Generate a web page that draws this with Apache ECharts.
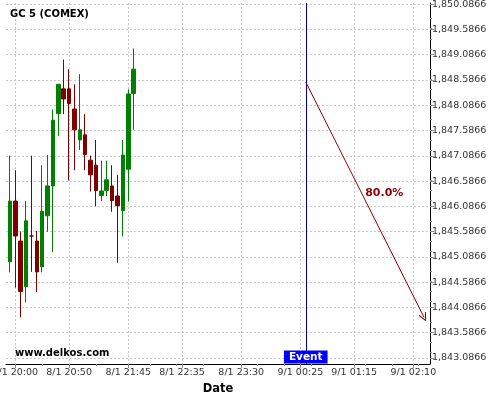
<!DOCTYPE html>
<html>
<head>
<meta charset="utf-8">
<title>GC 5 (COMEX)</title>
<script src="https://cdn.jsdelivr.net/npm/echarts@6/dist/echarts.min.js"></script>
<style>
  html, body { margin: 0; padding: 0; background: #fff; }
  #main { width: 500px; height: 400px; }
</style>
</head>
<body>
<div id="main"></div>
<script>
// 5 minute bars on 8/1
var candleTimes = ['19:55', '20:00', '20:05', '20:10', '20:15', '20:20', '20:25', '20:30',
  '20:35', '20:40', '20:45', '20:50', '20:55', '21:00', '21:05', '21:10',
  '21:15', '21:20', '21:25', '21:30', '21:35', '21:40', '21:45', '21:50']
var opens = [1844.99, 1846.19, 1845.40, 1844.50, 1845.50, 1845.40, 1844.89, 1845.90,
  1846.49, 1847.92, 1848.41, 1848.41, 1848.01, 1847.40, 1847.50, 1847.00,
  1846.90, 1846.30, 1846.40, 1846.49, 1846.29, 1846.00, 1846.82, 1848.32]
var closes = [1846.19, 1845.50, 1844.40, 1845.80, 1845.50, 1844.79, 1845.99, 1846.49,
  1847.79, 1848.50, 1848.21, 1848.12, 1847.60, 1847.60, 1847.11, 1846.71,
  1846.40, 1846.39, 1846.61, 1846.20, 1846.10, 1847.10, 1848.31, 1848.80]
var lows = [1844.78, 1844.48, 1843.89, 1844.19, 1844.79, 1844.39, 1844.78, 1845.58,
  1845.18, 1847.48, 1847.91, 1846.60, 1846.80, 1847.20, 1846.80, 1846.38,
  1846.09, 1846.19, 1846.29, 1845.98, 1844.97, 1845.49, 1846.18, 1847.60]
var highs = [1847.09, 1846.80, 1845.59, 1846.19, 1847.09, 1845.60, 1846.90, 1847.10,
  1848.00, 1848.50, 1848.99, 1848.80, 1848.50, 1848.70, 1847.91, 1847.09,
  1847.40, 1846.99, 1846.99, 1846.90, 1846.71, 1847.40, 1848.40, 1849.21]

var xTickLabels = ['8/1 20:00', '8/1 20:50', '8/1 21:45', '8/1 22:35',
  '8/1 23:30', '9/1 00:25', '9/1 01:15', '9/1 02:10']
var yTicks = [1843.0866, 1843.5866, 1844.0866, 1844.5866, 1845.0866, 1845.5866,
  1846.0866, 1846.5866, 1847.0866, 1847.5866, 1848.0866, 1848.5866,
  1849.0866, 1849.5866, 1850.0866]

// event and forecast arrow
var eventTime = '9/1 00:30'
var arrowFrom = ['9/1 00:30', 1848.545]
var arrowTo = ['9/1 02:20', 1843.89]
var arrowLabel = ['9/1 01:43', 1846.35, '80.0%']

// minutes since 8/1 00:00
function toMin (s) {
  var p = s.split(' ')
  var day = p[0] === '9/1' ? 1440 : 0
  var hm = p[1].split(':')
  return day + parseInt(hm[0], 10) * 60 + parseInt(hm[1], 10)
}
function minLabel (v) {
  var m = Math.round(v)
  var day = m >= 1440 ? '9/1' : '8/1'
  m = m % 1440
  var h = Math.floor(m / 60)
  var mm = m % 60
  return day + ' ' + (h < 10 ? '0' : '') + h + ':' + (mm < 10 ? '0' : '') + mm
}
function priceLabel (v) {
  var parts = v.toFixed(4).split('.')
  return parts[0].replace(/\B(?=(\d{3})+(?!\d))/g, ',') + '.' + parts[1]
}

var candles = []
for (var i = 0; i < candleTimes.length; i++) {
  candles.push([toMin('8/1 ' + candleTimes[i]), opens[i], closes[i], lows[i], highs[i]])
}
var xTicks = xTickLabels.map(toMin)

var font = 'DejaVu Sans'
var gridDash = { color: '#c8c8c8', width: 1, type: [2, 2] }

var option = {
  animation: false,
  backgroundColor: '#fff',
  title: {
    text: 'GC 5 (COMEX)',
    left: 10,
    top: 9,
    padding: 0,
    textStyle: { fontFamily: font, fontSize: 10, fontWeight: 'bold', color: '#000' }
  },
  graphic: [{
    type: 'text',
    left: 15,
    top: 348,
    style: { text: 'www.delkos.com', font: 'bold 10px "DejaVu Sans"', fill: '#000' }
  }],
  grid: { left: 6, right: 70, top: 3, bottom: 36, outerBoundsMode: 'none' },
  xAxis: {
    type: 'value',
    min: 1191.35,
    max: 1585.5,
    name: 'Date',
    nameLocation: 'middle',
    nameGap: 19,
    nameTextStyle: { fontFamily: font, fontSize: 11.5, fontWeight: 'bold', color: '#000' },
    axisLine: { show: true, lineStyle: { color: '#000', width: 1 } },
    axisTick: { show: true, length: 4, customValues: xTicks, lineStyle: { color: '#888' } },
    minorTick: { show: true, splitNumber: 4, length: 2, lineStyle: { color: '#888' } },
    axisLabel: {
      customValues: xTicks,
      margin: 4,
      fontFamily: font,
      fontSize: 9.5,
      color: '#333',
      formatter: minLabel
    },
    splitLine: { show: true, lineStyle: gridDash }
  },
  yAxis: {
    type: 'value',
    position: 'right',
    min: 1842.968,
    max: 1850.108,
    axisLine: { show: true, lineStyle: { color: '#000', width: 1 } },
    axisTick: { show: true, length: 4, customValues: yTicks, lineStyle: { color: '#888' } },
    minorTick: { show: true, splitNumber: 5, length: 2, lineStyle: { color: '#888' } },
    axisLabel: {
      customValues: yTicks,
      margin: 2,
      fontFamily: font,
      fontSize: 9.5,
      color: '#333',
      formatter: priceLabel
    },
    splitLine: { show: true, lineStyle: gridDash }
  },
  series: [{
    type: 'candlestick',
    data: candles,
    barWidth: 4,
    itemStyle: {
      color: '#008000',
      color0: '#800000',
      borderColor: '#008000',
      borderColor0: '#800000',
      borderWidth: 1
    },
    markLine: {
      silent: true,
      symbol: ['none', 'none'],
      label: { show: false },
      data: [
        { xAxis: toMin(eventTime), lineStyle: { color: '#0000a8', width: 1, type: 'solid' } },
        [
          { coord: [toMin(arrowFrom[0]), arrowFrom[1]], symbol: 'none' },
          {
            coord: [toMin(arrowTo[0]), arrowTo[1]],
            symbol: 'path://M5,0L10,9L9,10L5,2.5L1,10L0,9Z',
            symbolSize: [8, 9],
            lineStyle: { color: '#8b0000', width: 1, type: 'solid' }
          }
        ]
      ]
    },
    markPoint: {
      silent: true,
      data: [
        {
          coord: [toMin(arrowLabel[0]), arrowLabel[1]],
          symbol: 'circle',
          symbolSize: 1,
          itemStyle: { color: 'rgba(0,0,0,0)' },
          label: {
            show: true,
            position: 'inside',
            formatter: arrowLabel[2],
            fontFamily: font,
            fontSize: 11,
            fontWeight: 'bold',
            color: '#8b0000'
          }
        },
        {
          coord: [toMin(eventTime), 1842.968],
          symbol: 'circle',
          symbolSize: 1,
          itemStyle: { color: 'rgba(0,0,0,0)' },
          label: {
            show: true,
            position: 'top',
            distance: 0,
            formatter: 'Event',
            backgroundColor: '#0000ff',
            padding: [1, 5, 1, 5],
            lineHeight: 11,
            fontFamily: font,
            fontSize: 10.5,
            fontWeight: 'bold',
            color: '#fff'
          }
        }
      ]
    }
  }]
}

var chart = echarts.init(document.getElementById('main'))
chart.setOption(option)
</script>
</body>
</html>
